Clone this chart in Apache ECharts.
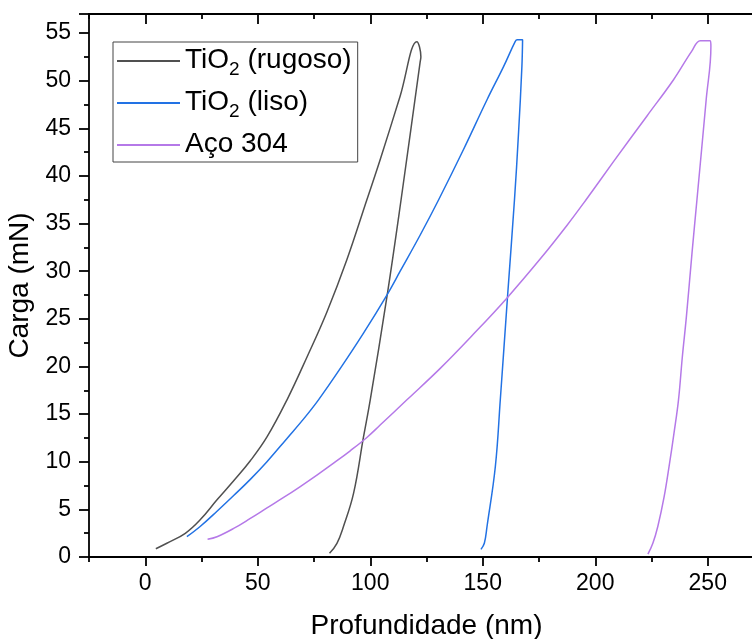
<!DOCTYPE html>
<html>
<head>
<meta charset="utf-8">
<script src="https://cdn.jsdelivr.net/npm/echarts@6/dist/echarts.min.js"></script>
<style>html,body{margin:0;padding:0;background:#fff}#c{width:752px;height:639px}</style>
</head>
<body>
<div id="c"></div>
<script>
// Data (depth nm, load mN)
const rugosoX = [4.7, 9.6, 17.8, 24.4, 31.9, 39.3, 46.7, 54.1, 63.0, 71.9, 80.7, 89.6, 98.5, 104.4, 113.3, 120.7, 122.5, 122.2, 113.7, 107.4, 100.0, 97.0, 92.6, 88.1, 85.2, 81.9];
const rugosoY = [0.87, 1.44, 2.49, 3.9, 6.0, 8.0, 10.1, 12.6, 16.5, 21.0, 25.7, 31.2, 37.5, 41.7, 48.4, 54.1, 52.5, 52.0, 37.5, 27.3, 16.5, 12.6, 6.7, 3.2, 1.44, 0.39];

const lisoX = [18.5, 24.4, 31.9, 39.3, 46.7, 54.1, 63.0, 70.4, 77.0, 86.7, 97.0, 107.4, 113.3, 122.2, 130.4, 141.5, 151.9, 159.3, 164.4, 165.3, 167.7, 167.4, 165.9, 164.1, 161.0, 157.8, 155.6, 151.9, 150.7, 149.2];
const lisoY = [2.13, 3.2, 4.8, 6.45, 8.15, 10.0, 12.45, 14.5, 16.5, 19.8, 23.5, 27.5, 30.0, 33.8, 37.5, 42.8, 48.0, 51.5, 54.1, 54.3, 54.3, 51.5, 44.5, 37.5, 27.3, 16.5, 9.5, 3.2, 1.44, 0.8];

const acoX = [27.7, 31.9, 39.3, 46.7, 54.1, 61.5, 68.9, 76.3, 83.7, 91.1, 98.5, 104.4, 116.3, 131.1, 145.9, 160.8, 175.6, 187.4, 195.6, 208.1, 223.0, 234.8, 242.9, 246.7, 251.1, 251.4, 249.3, 245.2, 243.0, 240.5, 238.7, 237.0, 235.0, 233.0, 230.6, 227.8, 225.6, 223.4];
const acoY = [1.86, 2.13, 3.0, 4.05, 5.15, 6.25, 7.4, 8.6, 9.85, 11.15, 12.55, 13.85, 16.5, 19.8, 23.4, 27.2, 31.3, 34.8, 37.4, 41.5, 46.3, 50.1, 53.1, 54.2, 54.2, 53.6, 48.0, 37.5, 31.9, 25.2, 21.0, 16.5, 13.0, 9.8, 6.3, 3.2, 1.44, 0.3];

const seriesNames = ['TiO2 (rugoso)', 'TiO2 (liso)', 'Aço 304'];
const xMajorTicks = [0, 50, 100, 150, 200, 250];
const xMinorTicks = [-25, 25, 75, 125, 175, 225, 275];

const zip = (xs, ys) => xs.map((x, i) => [x, ys[i]]);
const colors = ['#505050', '#2272e4', '#b579e8'];

const chart = echarts.init(document.getElementById('c'));
const axisColor = '#000';
const font = 'Arial, "Liberation Sans", sans-serif';
const lw = 1.8;

const baseX = {
  type: 'value', min: -25, max: 275, gridIndex: 0,
  splitLine: { show: false }
};

chart.setOption({
  animation: false,
  backgroundColor: '#fff',
  textStyle: { fontFamily: font },
  grid: { left: 89, top: 14, width: 675, bottom: 82, containLabel: false, outerBoundsMode: 'none' },
  legend: {
    orient: 'vertical', left: 113, top: 42,
    data: seriesNames.map(n => ({ name: n, icon: 'rect' })),
    borderColor: '#444', borderWidth: 1, borderRadius: 0,
    padding: [4, 6, 4, 4], itemGap: 9, itemWidth: 63, itemHeight: 2,
    backgroundColor: '#fff',
    formatter: function (n) {
      if (n.indexOf('TiO2') === 0) return '{t|TiO}{s|2}{t|' + n.slice(4) + '}';
      return '{t|' + n + '}';
    },
    textStyle: {
      fontFamily: font, color: '#000', fontSize: 28,
      rich: {
        t: { fontSize: 28, fontFamily: font, color: '#000', lineHeight: 30, verticalAlign: 'top' },
        s: { fontSize: 19, fontFamily: font, color: '#000', lineHeight: 22, verticalAlign: 'top', padding: [14, 0, 0, 0] }
      }
    }
  },
  xAxis: [
    Object.assign({}, baseX, {
      position: 'bottom',
      name: 'Profundidade (nm)', nameLocation: 'middle', nameGap: 55,
      nameTextStyle: { fontSize: 28, color: '#000', fontFamily: font },
      axisLine: { show: true, onZero: false, lineStyle: { color: axisColor, width: lw } },
      axisTick: { show: true, inside: false, length: 9, lineStyle: { color: axisColor, width: lw }, customValues: xMajorTicks },
      axisLabel: { show: true, fontSize: 23, color: '#000', margin: 15, fontFamily: font, customValues: xMajorTicks }
    }),
    Object.assign({}, baseX, {
      position: 'bottom',
      axisLine: { show: false },
      axisTick: { show: true, inside: false, length: 5, lineStyle: { color: axisColor, width: lw }, customValues: xMinorTicks },
      axisLabel: { show: false }
    }),
    Object.assign({}, baseX, {
      position: 'top',
      axisLine: { show: true, onZero: false, lineStyle: { color: axisColor, width: lw } },
      axisTick: { show: true, inside: true, length: 10, lineStyle: { color: axisColor, width: lw }, customValues: xMajorTicks },
      axisLabel: { show: false }
    }),
    Object.assign({}, baseX, {
      position: 'top',
      axisLine: { show: false },
      axisTick: { show: true, inside: true, length: 5, lineStyle: { color: axisColor, width: lw }, customValues: xMinorTicks },
      axisLabel: { show: false }
    })
  ],
  yAxis: [{
    type: 'value', min: 0, max: 57, interval: 5,
    name: 'Carga (mN)', nameLocation: 'middle', nameGap: 51,
    nameTextStyle: { fontSize: 28, color: '#000', fontFamily: font },
    axisLine: { show: true, onZero: false, lineStyle: { color: axisColor, width: lw } },
    axisTick: { show: true, inside: false, length: 10, lineStyle: { color: axisColor, width: lw } },
    minorTick: { show: true, splitNumber: 2, length: 5, lineStyle: { color: axisColor, width: lw } },
    axisLabel: { fontSize: 23, color: '#000', margin: 18, fontFamily: font, showMaxLabel: false },
    splitLine: { show: false }, minorSplitLine: { show: false }
  }],
  series: [
    { name: seriesNames[0], type: 'line', data: zip(rugosoX, rugosoY), symbol: 'none', smooth: 0.4, color: colors[0], lineStyle: { width: 1.5, color: colors[0] } },
    { name: seriesNames[1], type: 'line', data: zip(lisoX, lisoY), symbol: 'none', smooth: 0.4, color: colors[1], lineStyle: { width: 1.5, color: colors[1] } },
    { name: seriesNames[2], type: 'line', data: zip(acoX, acoY), symbol: 'none', smooth: 0.4, color: colors[2], lineStyle: { width: 1.5, color: colors[2] } }
  ]
});
</script>
</body>
</html>
